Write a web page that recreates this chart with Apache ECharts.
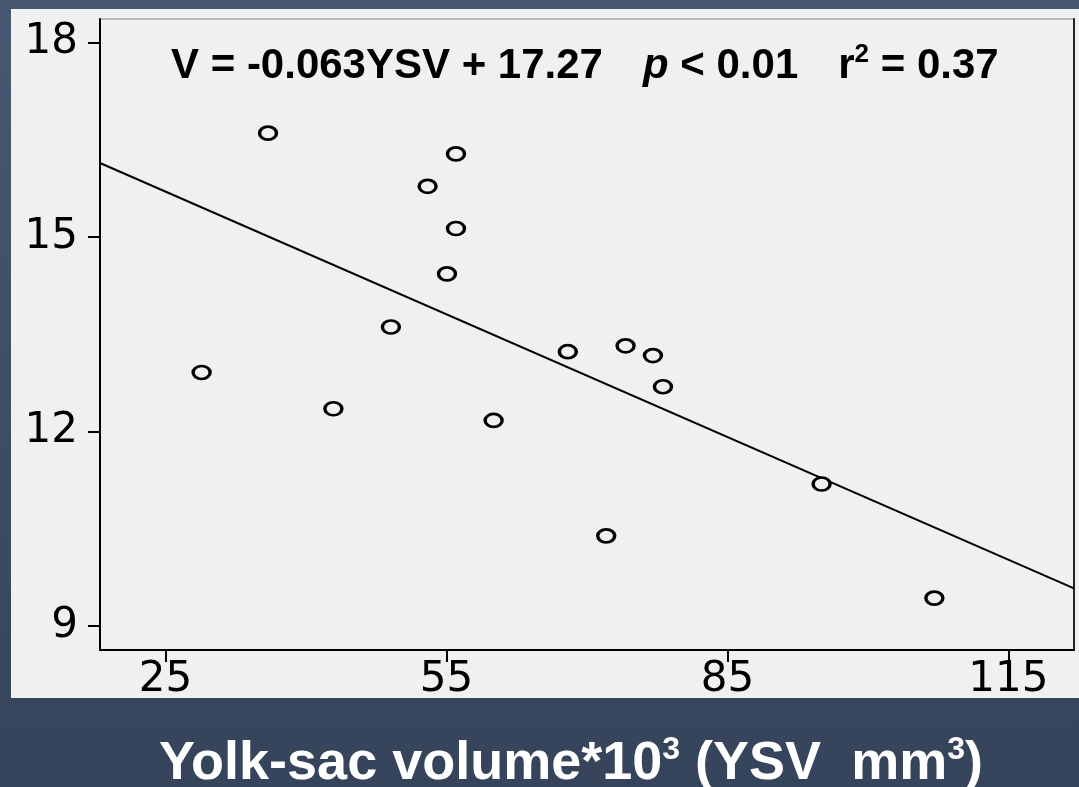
<!DOCTYPE html>
<html>
<head>
<meta charset="utf-8">
<title>Yolk-sac volume scatter</title>
<script src="https://cdn.jsdelivr.net/npm/echarts@6/dist/echarts.min.js"></script>
<style>
  html, body { margin: 0; padding: 0; }
  #chart { width: 1079px; height: 787px; }
</style>
</head>
<body>
<div id="chart"></div>
<script>
// values
const ysv = [28.85, 35.94, 42.92, 49.06, 52.98, 56.01, 56.01, 55.05, 60.03, 67.95, 74.12, 77.04, 78.11, 72.05, 95.05, 107.09]
const vol = [12.91, 16.60, 12.35, 13.61, 15.78, 16.28, 15.13, 14.43, 12.17, 13.23, 13.32, 13.17, 12.69, 10.39, 11.19, 9.43]
// fitted line end points
const fitX = [18, 122]
const fitY = [16.14, 9.58]
const xTicks = [25, 55, 85, 115]
const yTicks = [9, 12, 15, 18]

const points = ysv.map((x, i) => [x, vol[i]])
const fitLine = fitX.map((x, i) => [x, fitY[i]])

const chart = echarts.init(document.getElementById('chart'))
chart.setOption({
  animation: false,
  backgroundColor: {
    type: 'linear', x: 0, y: 0, x2: 0, y2: 1,
    colorStops: [
      { offset: 0, color: '#485870' },
      { offset: 1, color: '#35445b' }
    ]
  },
  graphic: [
    {
      type: 'rect',
      z: -10,
      shape: { x: 11, y: 9, width: 1068, height: 689 },
      style: { fill: '#f0f0f0' }
    },
    {
      type: 'text',
      x: 571,
      y: 764,
      style: {
        text: '{b|Yolk-sac volume*10}{s|3}{b| (YSV  mm}{s|3}{b|)}',
        fill: '#ffffff',
        align: 'center',
        verticalAlign: 'middle',
        rich: {
          b: { fontFamily: 'Liberation Sans', fontWeight: 'bold', fontSize: 54, lineHeight: 60, fill: '#fff' },
          s: { fontFamily: 'Liberation Sans', fontWeight: 'bold', fontSize: 32, lineHeight: 38, verticalAlign: 'top', fill: '#fff' }
        }
      }
    }
  ],
  title: {
    left: 171,
    top: 42,
    padding: 0,
    text: '{b|V = -0.063YSV + 17.27}{g| }{i|p}{b| < 0.01}{h| }{b|r}{s|2}{b| = 0.37}',
    textStyle: {
      rich: {
        b: { fontFamily: 'Liberation Sans', fontWeight: 'bold', fontSize: 42, lineHeight: 48, color: '#000' },
        i: { fontFamily: 'Liberation Sans', fontWeight: 'bold', fontStyle: 'italic', fontSize: 42, lineHeight: 48, color: '#000' },
        s: { fontFamily: 'Liberation Sans', fontWeight: 'bold', fontSize: 26, lineHeight: 36, verticalAlign: 'top', color: '#000' },
        g: { fontSize: 42, lineHeight: 48, width: 40 },
        h: { fontSize: 42, lineHeight: 48, width: 40 }
      }
    }
  },
  grid: {
    left: 100,
    top: 19,
    right: 5,
    bottom: 137,
    show: true,
    backgroundColor: 'transparent',
    borderColor: '#8a8a8a',
    borderWidth: 1,
    outerBoundsMode: 'none'
  },
  xAxis: {
    type: 'value',
    min: 18,
    max: 122,
    splitLine: { show: false },
    axisLine: { show: true, onZero: false, lineStyle: { color: '#000', width: 2 } },
    axisTick: { show: true, length: 12, customValues: xTicks, lineStyle: { color: '#000', width: 2 } },
    axisLabel: {
      customValues: xTicks,
      margin: 9,
      color: '#000',
      fontFamily: 'DejaVu Sans',
      fontSize: 42
    }
  },
  yAxis: [
    {
      type: 'value',
      min: 8.63,
      max: 18.36,
      splitLine: { show: false },
      axisLine: { show: true, onZero: false, lineStyle: { color: '#000', width: 2 } },
      axisTick: { show: true, length: 12, customValues: yTicks, lineStyle: { color: '#000', width: 2 } },
      axisLabel: {
        customValues: yTicks,
        margin: 22,
        color: '#000',
        fontFamily: 'DejaVu Sans',
        fontSize: 42
      }
    },
    {
      type: 'value',
      position: 'right',
      min: 8.63,
      max: 18.36,
      splitLine: { show: false },
      axisLine: { show: true, onZero: false, lineStyle: { color: '#222', width: 2 } },
      axisTick: { show: false },
      axisLabel: { show: false }
    }
  ],
  series: [
    {
      type: 'line',
      data: fitLine,
      symbol: 'none',
      z: 2,
      lineStyle: { color: '#000', width: 2 }
    },
    {
      type: 'scatter',
      data: points,
      symbol: 'circle',
      symbolSize: [17, 13],
      z: 3,
      itemStyle: { color: '#f0f0f0', borderColor: '#000', borderWidth: 3, opacity: 1 }
    }
  ]
})
</script>
</body>
</html>
